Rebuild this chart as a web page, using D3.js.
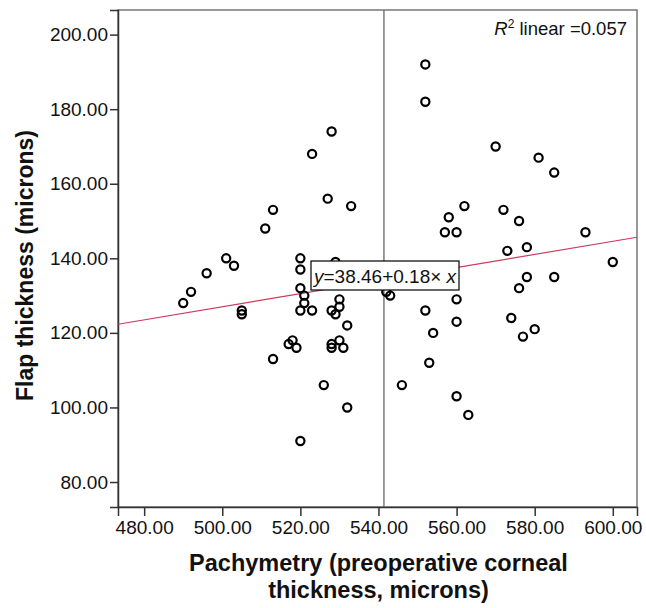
<!DOCTYPE html>
<html>
<head>
<meta charset="utf-8">
<script src="https://cdn.jsdelivr.net/npm/d3@7"></script>
<style>
  body { margin: 0; background: #fff; }
  text { font-family: "Liberation Sans", Arial, sans-serif; fill: #111; }
</style>
</head>
<body>
<svg id="chart" width="646" height="608"></svg>
<script>
// pachymetry (x) and flap thickness (y)
var pachymetry = [528, 523, 527, 533, 513, 511, 501, 503, 496, 492, 490, 505, 505,
    520, 520, 529, 520, 521, 521, 520, 523, 530, 530, 528, 529, 532, 518, 517, 519,
    528, 528, 530, 531, 513, 526, 532, 520, 552, 552, 570, 581, 585, 562, 558, 557,
    560, 572, 576, 593, 573, 578, 600, 543, 542, 552, 554, 560, 560, 553, 546, 560,
    563, 574, 576, 578, 585, 577, 580];
var flapThickness = [174, 168, 156, 154, 153, 148, 140, 138, 136, 131, 128, 126, 125,
    140, 137, 139, 132, 130, 128, 126, 126, 129, 127, 126, 125, 122, 118, 117, 116,
    117, 116, 118, 116, 113, 106, 100, 91, 192, 182, 170, 167, 163, 154, 151, 147,
    147, 153, 150, 147, 142, 143, 139, 130, 131, 126, 120, 129, 123, 112, 106, 103,
    98, 124, 132, 135, 135, 119, 121];

var xTicks = [480, 500, 520, 540, 560, 580, 600];
var yTicks = [80, 100, 120, 140, 160, 180, 200];
var xDomain = [473.3, 606.2];
var yDomain = [73.3, 206.6];
var meanPachymetry = 541.4;
var fitIntercept = 39.2, fitSlope = 0.1756;
var fitLabel = ["y", "=38.46+0.18× ", "x"];
var r2Label = "0.057";

var svg = d3.select("#chart");
var plotLeft = 118, plotTop = 10, plotRight = 637, plotBottom = 507;

var x = d3.scaleLinear().domain(xDomain).range([plotLeft, plotRight]);
var y = d3.scaleLinear().domain(yDomain).range([plotBottom, plotTop]);

var points = pachymetry.map(function(v, i) { return { x: v, y: flapThickness[i] }; });

// frame
svg.append("rect")
    .attr("x", plotLeft).attr("y", plotTop)
    .attr("width", plotRight - plotLeft).attr("height", plotBottom - plotTop)
    .attr("fill", "none").attr("stroke", "#777").attr("stroke-width", 1.5);

// axes
var xAxis = svg.append("g")
    .attr("transform", "translate(0," + plotBottom + ")")
    .call(d3.axisBottom(x).tickValues(xTicks).tickSize(9).tickPadding(5)
        .tickFormat(d3.format(".2f")));
var yAxis = svg.append("g")
    .attr("transform", "translate(" + plotLeft + ",0)")
    .call(d3.axisLeft(y).tickValues(yTicks).tickSize(8).tickPadding(2)
        .tickFormat(d3.format(".2f")));

[xAxis, yAxis].forEach(function(a) {
    a.select(".domain").attr("stroke", "#333").attr("stroke-width", 1.5);
    a.selectAll(".tick line").attr("stroke", "#333").attr("stroke-width", 1.5);
    a.selectAll(".tick text").attr("font-size", 19).attr("fill", "#111")
        .style("font-family", "Liberation Sans, Arial, sans-serif");
});

// mean reference line
svg.append("line")
    .attr("x1", x(meanPachymetry)).attr("x2", x(meanPachymetry))
    .attr("y1", plotTop).attr("y2", plotBottom)
    .attr("stroke", "#666").attr("stroke-width", 1.3);

// fit line
svg.append("line")
    .attr("x1", x(xDomain[0])).attr("y1", y(fitIntercept + fitSlope * xDomain[0]))
    .attr("x2", x(xDomain[1])).attr("y2", y(fitIntercept + fitSlope * xDomain[1]))
    .attr("stroke", "#cc3a5c").attr("stroke-width", 1.2);

// points
svg.append("g").selectAll("circle")
    .data(points)
    .enter().append("circle")
    .attr("cx", function(d) { return x(d.x); })
    .attr("cy", function(d) { return y(d.y); })
    .attr("r", 4.1)
    .attr("fill", "none")
    .attr("stroke", "#000")
    .attr("stroke-width", 2.2);

// equation box
svg.append("rect")
    .attr("x", 311).attr("y", 261).attr("width", 148).attr("height", 29)
    .attr("fill", "#fff").attr("stroke", "#000").attr("stroke-width", 1.2);
var eq = svg.append("text").attr("x", 314).attr("y", 282.5).attr("font-size", 19);
eq.append("tspan").attr("font-style", "italic").text(fitLabel[0]);
eq.append("tspan").text(fitLabel[1]);
eq.append("tspan").attr("font-style", "italic").text(fitLabel[2]);

// R squared
var r2 = svg.append("text").attr("x", 627).attr("y", 35).attr("text-anchor", "end")
    .attr("font-size", 18.5);
r2.append("tspan").attr("font-style", "italic").text("R");
r2.append("tspan").attr("font-size", 12).attr("dy", -7).text("2");
r2.append("tspan").attr("dy", 7).text(" linear =" + r2Label);

// axis titles
svg.append("text")
    .attr("transform", "translate(33," + ((plotTop + plotBottom) / 2 + 7) + ") rotate(-90)")
    .attr("text-anchor", "middle")
    .attr("font-size", 23).attr("font-weight", "bold")
    .text("Flap thickness (microns)");

svg.append("text")
    .attr("x", (plotLeft + plotRight) / 2 + 1).attr("y", 571)
    .attr("text-anchor", "middle")
    .attr("font-size", 23.5).attr("font-weight", "bold")
    .text("Pachymetry (preoperative corneal");
svg.append("text")
    .attr("x", (plotLeft + plotRight) / 2 + 1).attr("y", 598)
    .attr("text-anchor", "middle")
    .attr("font-size", 23.5).attr("font-weight", "bold")
    .text("thickness, microns)");
</script>
</body>
</html>
